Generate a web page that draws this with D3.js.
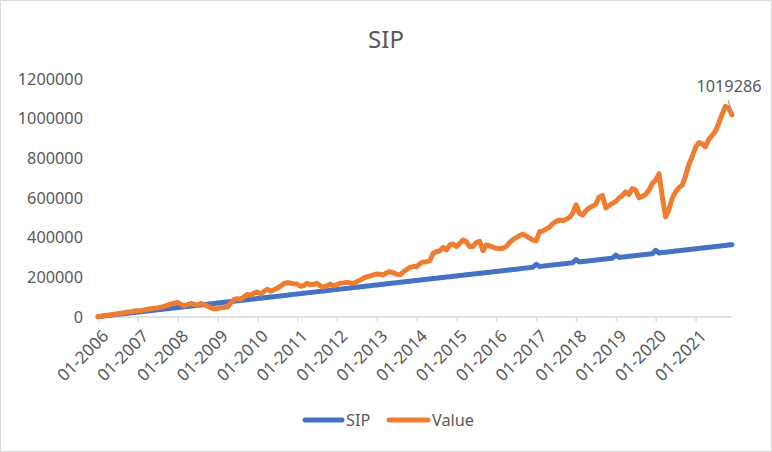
<!DOCTYPE html>
<html>
<head>
<meta charset="utf-8">
<script src="https://cdn.jsdelivr.net/npm/d3@7"></script>
<style>
  html, body { margin: 0; padding: 0; background: #fff; }
  svg { display: block; }
  text { font-family: "Noto Sans", "Open Sans", sans-serif; fill: #595959; }
</style>
</head>
<body>
<svg id="chart" width="772" height="452"></svg>
<script>
// ---- Data (monthly, Jan 2006 .. Dec 2021) ----
const startMonth = "2006-01";
const seriesNames = ["SIP", "Value"];
const yTicks = [0, 200000, 400000, 600000, 800000, 1000000, 1200000];

const sipValues = [
  1900,3800,5700,7600,9500,11400,13300,15200,17100,19000,20900,22800,
  24700,26600,28500,30400,32300,34200,36100,38000,39900,41800,43700,45600,
  47500,49400,51300,53200,55100,57000,58900,60800,62700,64600,66500,68400,
  70300,72200,74100,76000,77900,79800,81700,83600,85500,87400,89300,91200,
  93100,95000,96900,98800,100700,102600,104500,106400,108300,110200,112100,114000,
  115900,117800,119700,121600,123500,125400,127300,129200,131100,133000,134900,136800,
  138700,140600,142500,144400,146300,148200,150100,152000,153900,155800,157700,159600,
  161500,163400,165300,167200,169100,171000,172900,174800,176700,178600,180500,182400,
  184300,186200,188100,190000,191900,193800,195700,197600,199500,201400,203300,205200,
  207100,209000,210900,212800,214700,216600,218500,220400,222300,224200,226100,228000,
  229900,231800,233700,235600,237500,239400,241300,243200,245100,247000,248900,250800,
  266000,254600,256500,258400,260300,262200,264100,266000,267900,269800,271700,273600,
  289000,277400,279300,281200,283100,285000,286900,288800,290700,292600,294500,296400,
  312000,300200,302100,304000,305900,307800,309700,311600,313500,315400,317300,319200,
  336000,323000,324900,326800,328700,330600,332500,334400,336300,338200,340100,342000,
  343900,345800,347700,349600,351500,353400,355300,357200,359100,361000,362900,364800
];

const valueValues = [
  2000,4000,6000,8500,11000,14000,16000,19000,22000,25000,27000,30000,
  32000,33000,35000,39000,42000,44000,46000,49000,53000,60000,65000,70000,
  74000,63000,56000,62000,68000,64000,59000,69000,62000,55000,47000,40000,
  43000,47000,48000,50000,70000,88000,92000,90000,102000,114000,109000,120000,
  126000,116000,128000,140000,130000,137000,145000,155000,168000,173000,171000,168000,
  166000,155000,158000,170000,163000,165000,170000,157000,150000,158000,166000,157000,
  163000,170000,172000,175000,172000,170000,178000,186000,196000,203000,207000,212000,
  217000,215000,212000,224000,228000,223000,215000,213000,228000,240000,250000,254000,
  254000,270000,277000,279000,284000,321000,329000,334000,351000,338000,363000,368000,
  355000,372000,388000,380000,355000,356000,375000,382000,334000,363000,358000,352000,
  346000,345000,347000,355000,375000,390000,400000,410000,418000,408000,398000,388000,
  384000,430000,432000,444000,453000,470000,482000,489000,486000,492000,502000,522000,
  566000,522000,514000,535000,550000,559000,568000,605000,612000,550000,562000,573000,
  583000,601000,612000,631000,618000,648000,640000,601000,608000,618000,640000,673000,
  690000,722000,610000,505000,540000,598000,630000,652000,665000,710000,770000,808000,
  855000,880000,872000,858000,895000,915000,937000,976000,1021000,1062000,1055000,1019286
];

const lastLabel = "1019286";

// ---- Build ----
const parseMonth = d3.timeParse("%Y-%m");
const t0 = parseMonth(startMonth);
const dates = sipValues.map((_, i) => d3.timeMonth.offset(t0, i));

const svg = d3.select("#chart");
const W = 772, H = 452;

svg.append("rect").attr("x", 0.5).attr("y", 0.5).attr("width", W - 1).attr("height", H - 1)
  .attr("fill", "#fff").attr("stroke", "#d9d9d9").attr("stroke-width", 1);

const x = d3.scaleTime().domain([dates[0], dates[dates.length - 1]]).range([98, 732]);
const y = d3.scaleLinear().domain([0, 1200000]).range([317, 79]);

// Title
svg.append("text").attr("x", 386).attr("y", 48).attr("text-anchor", "middle")
  .style("font-size", "24px").text("SIP");

// Y axis labels
const yAxis = d3.axisLeft(y).tickValues(yTicks).tickSize(0).tickPadding(0).tickFormat(d3.format("d"));
const gy = svg.append("g").attr("transform", "translate(83,0)").call(yAxis);
gy.select(".domain").remove();
gy.selectAll("text").style("font-size", "16.3px").attr("fill", "#595959")
  .style("font-family", '"Noto Sans", sans-serif');

// X axis
const xAxis = d3.axisBottom(x).ticks(d3.timeYear.every(1)).tickSize(5)
  .tickFormat(d3.timeFormat("%m-%Y"));
const gx = svg.append("g").attr("transform", "translate(0,317)").call(xAxis);
gx.select(".domain").attr("stroke", "#d9d9d9").attr("stroke-width", 1.3).attr("d", "M98,0H732");
gx.selectAll(".tick line").attr("stroke", "#d9d9d9").attr("stroke-width", 1.3);
gx.selectAll(".tick text")
  .style("font-size", "17px").attr("fill", "#595959")
  .style("font-family", '"Noto Sans", sans-serif')
  .attr("text-anchor", "end")
  .attr("dy", "0.35em")
  .attr("transform", "translate(7,16) rotate(-45)")
  .attr("y", 0).attr("x", 0);

// Lines
const line = d3.line().x((d, i) => x(dates[i])).y(d => y(d)).curve(d3.curveLinear);
const colors = { SIP: "#4472C4", Value: "#ED7D31" };

svg.append("path").datum(sipValues).attr("d", line).attr("fill", "none")
  .attr("stroke", colors.SIP).attr("stroke-width", 5).attr("stroke-linejoin", "round").attr("stroke-linecap", "round");
svg.append("path").datum(valueValues).attr("d", line).attr("fill", "none")
  .attr("stroke", colors.Value).attr("stroke-width", 5).attr("stroke-linejoin", "round").attr("stroke-linecap", "round");

// Data label on last point
const lastI = valueValues.length - 1;
const lx = x(dates[lastI]), ly = y(valueValues[lastI]);
svg.append("line").attr("x1", 728).attr("y1", 100).attr("x2", lx).attr("y2", ly - 3)
  .attr("stroke", "#a6a6a6").attr("stroke-width", 1.3);
svg.append("text").attr("x", 729).attr("y", 92).attr("text-anchor", "middle")
  .style("font-size", "16.3px").text(lastLabel);

// Legend
const legend = svg.append("g");
const legendItems = [
  { name: seriesNames[0], x1: 305, x2: 342, tx: 346 },
  { name: seriesNames[1], x1: 389, x2: 428, tx: 432 }
];
legendItems.forEach(it => {
  legend.append("line").attr("x1", it.x1).attr("x2", it.x2).attr("y1", 420).attr("y2", 420)
    .attr("stroke", colors[it.name]).attr("stroke-width", 5).attr("stroke-linecap", "round");
  legend.append("text").attr("x", it.tx).attr("y", 420).attr("dy", "0.35em")
    .style("font-size", "16.3px").text(it.name);
});
</script>
</body>
</html>
